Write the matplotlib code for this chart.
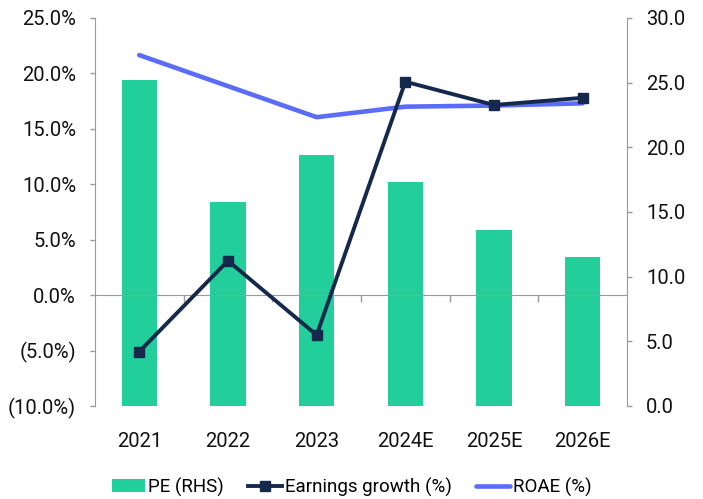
import matplotlib.pyplot as plt
import numpy as np

years = ['2021', '2022', '2023', '2024E', '2025E', '2026E']
pe_rhs = [25.2, 15.8, 19.4, 17.3, 13.6, 11.5]
earnings_growth = [-5.1, 3.1, -3.6, 19.25, 17.15, 17.8]
roae = [21.65, 18.85, 16.05, 17.0, 17.1, 17.3]

plt.rcParams['font.family'] = ['Roboto', 'DejaVu Sans']
GREEN = '#22CF9A'
NAVY = '#14294B'
BLUE = '#5A6CF8'
GREY = '#9A9A9A'
FS = 14.5

fig = plt.figure(figsize=(7.03, 4.99), dpi=100)
ax = fig.add_axes([0.135, 0.1864, 0.757, 0.7776])
ax2 = ax.twinx()

x = np.arange(len(years))

# bars on the right axis, drawn behind the lines
bars = ax2.bar(x, pe_rhs, width=0.4, color=GREEN, zorder=1, label='PE (RHS)')
ax2.set_ylim(0, 30)
ax2.set_yticks(np.arange(0, 31, 5))
ax2.set_yticklabels(['%.1f' % v for v in np.arange(0, 31, 5)])

ax.set_zorder(ax2.get_zorder() + 1)
ax.patch.set_visible(False)

l_roae, = ax.plot(x, roae, color=BLUE, lw=3.3, zorder=3, label='ROAE (%)', solid_capstyle='round')
l_eg, = ax.plot(x, earnings_growth, color=NAVY, lw=2.8, marker='s', markersize=7.5,
                zorder=4, label='Earnings growth (%)')

ax.set_ylim(-10, 25)
ax.set_xlim(-0.5, len(years) - 0.5)
yt = np.arange(-10, 26, 5)
ax.set_yticks(yt)
ax.set_yticklabels(['(%.1f%%)' % -v if v < 0 else '%.1f%%' % v for v in yt])

ax.set_xticks(x)
ax.set_xticklabels(years)
ax.tick_params(axis='x', length=0, pad=19)

for a in (ax, ax2):
    a.spines['top'].set_visible(False)
    a.spines['bottom'].set_visible(False)
    a.tick_params(axis='y', colors=GREY, labelcolor='#111111', length=3.6, width=1, labelsize=FS, pad=10)
    a.tick_params(axis='x', labelsize=FS, labelcolor='#111111')
ax.spines['left'].set_color(GREY)
ax.spines['right'].set_visible(False)
ax2.spines['left'].set_visible(False)
ax2.spines['right'].set_color(GREY)

# zero line with category separators
zero = ax.secondary_xaxis(10 / 35)
zero.set_xticks(np.arange(0.5, len(years) - 0.5, 1))
zero.set_xticklabels([])
zero.tick_params(axis='x', length=5, width=1, colors=GREY, direction='out')
zero.spines['bottom'].set_color(GREY)

fig.legend([bars, l_eg, l_roae], ['PE (RHS)', 'Earnings growth (%)', 'ROAE (%)'],
           loc='center', bbox_to_anchor=(0.5, 0.024), ncol=3,
           frameon=False, fontsize=13.5, handlelength=1.8, handletextpad=0.15, columnspacing=1.3)

fig.savefig('out.png', dpi=100)
